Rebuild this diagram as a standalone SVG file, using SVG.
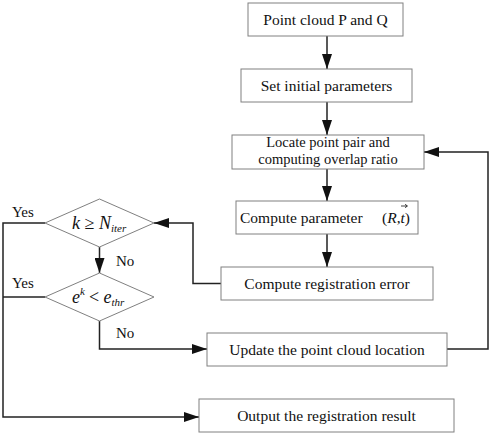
<svg xmlns="http://www.w3.org/2000/svg" width="491" height="436" viewBox="0 0 491 436">
<defs>
<style>
.box{fill:#fff;stroke:#808080;stroke-width:1}
.dia{fill:#fff;stroke:#808080;stroke-width:1}
.t{font-family:"Liberation Serif","Times New Roman",serif;font-size:15.5px;fill:#111}
.t2{font-family:"Liberation Serif","Times New Roman",serif;font-size:14.5px;fill:#111}
.l{font-family:"Liberation Serif","Times New Roman",serif;font-size:15px;fill:#111}
.m{font-family:"Liberation Serif","Times New Roman",serif;font-size:18px;font-style:italic;fill:#111}
.s{font-size:11px}
.c{fill:none;stroke:#222;stroke-width:1.5}
</style>
<marker id="arv" viewBox="0 0 15 10" refX="15" refY="5" markerWidth="15" markerHeight="10" markerUnits="userSpaceOnUse" orient="auto">
<path d="M0,0 L15,5 L0,10 z" fill="#111"/>
</marker>
</defs>
<rect width="491" height="436" fill="#fff"/>
<g id="connectors">
<line class="c" x1="327" y1="36" x2="327" y2="69" marker-end="url(#arv)"/>
<line class="c" x1="327" y1="102" x2="327" y2="135" marker-end="url(#arv)"/>
<line class="c" x1="327" y1="169" x2="327" y2="201" marker-end="url(#arv)"/>
<line class="c" x1="327" y1="234" x2="327" y2="267" marker-end="url(#arv)"/>
<polyline class="c" points="221,283.5 193,283.5 193,223 154,223" marker-end="url(#arv)"/>
<line class="c" x1="99.5" y1="247" x2="99.5" y2="273" marker-end="url(#arv)"/>
<polyline class="c" points="99.5,321 99.5,349 207,349" marker-end="url(#arv)"/>
<polyline class="c" points="447,349 488,349 488,152 424,152" marker-end="url(#arv)"/>
<polyline class="c" points="45,223 3,223 3,417 199,417" marker-end="url(#arv)"/>
<line class="c" x1="45" y1="297" x2="3" y2="297"/>
</g>
<g id="n1"><rect class="box" x="248" y="3" width="155" height="33"/><text class="t" x="325.5" y="25" text-anchor="middle">Point cloud P and Q</text></g>
<g id="n2"><rect class="box" x="241" y="69" width="171" height="33"/><text class="t" x="326.5" y="91" text-anchor="middle">Set initial parameters</text></g>
<g id="n3"><rect class="box" x="232" y="135" width="192" height="34"/><text class="t2" x="328" y="147" text-anchor="middle">Locate point pair and</text><text class="t2" x="328" y="164" text-anchor="middle">computing overlap ratio</text></g>
<g id="n4"><rect class="box" x="236" y="201" width="182" height="33"/><text class="t" x="240" y="222.5">Compute parameter</text><text class="t" x="382" y="222.5">(<tspan font-style="italic">R</tspan>,<tspan font-style="italic">t</tspan>)</text><path d="M401,206 L407,206" stroke="#111" stroke-width="0.8" fill="none"/><path d="M405,204.3 L407.5,206 L405,207.7" stroke="#111" stroke-width="0.8" fill="none"/></g>
<g id="n5"><rect class="box" x="221" y="267" width="212" height="33"/><text class="t" x="327" y="289" text-anchor="middle">Compute registration error</text></g>
<g id="n6"><rect class="box" x="207" y="333" width="240" height="33"/><text class="t" x="327" y="355" text-anchor="middle">Update the point cloud location</text></g>
<g id="n7"><rect class="box" x="199" y="399" width="255" height="33"/><text class="t" x="326.5" y="421" text-anchor="middle">Output the registration result</text></g>
<g id="d1"><polygon class="dia" points="45,223 99.5,199 154,223 99.5,247"/><text class="m" x="72" y="229">k <tspan font-style="normal">≥</tspan> N<tspan class="s" dy="3">iter</tspan></text></g>
<g id="d2"><polygon class="dia" points="45,297 99.5,273 154,297 99.5,321"/><text class="m" x="72" y="303">e<tspan class="s" dy="-8">k</tspan><tspan dy="8" dx="4" font-style="normal">&lt;</tspan> e<tspan class="s" dy="3">thr</tspan></text></g>
<g id="labels">
<text class="l" x="12" y="217">Yes</text>
<text class="l" x="12" y="288">Yes</text>
<text class="l" x="116" y="266">No</text>
<text class="l" x="116" y="338">No</text>
</g>
</svg>
